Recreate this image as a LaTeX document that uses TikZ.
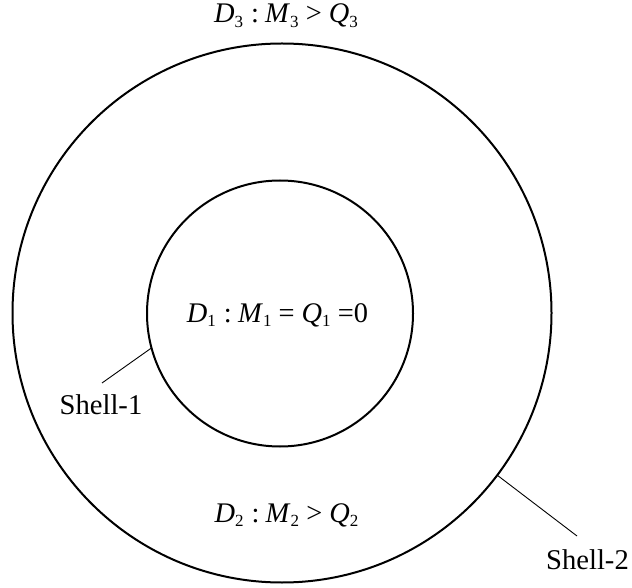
\documentclass[tikz,border=0pt]{standalone}
\usepackage{fontspec}
\setmainfont{Liberation Serif}
\newcommand{\sbs}[1]{\raisebox{-0.35ex}{\fontsize{8.5}{9}\selectfont #1}}
\tikzset{
  shell/.style={circle, draw, line width=1pt, inner sep=0pt, outer sep=0pt},
  lead/.style={line width=0.45pt},
  mathlbl/.style={anchor=base, inner sep=0pt, font=\fontsize{14.2}{16}\selectfont},
  shelllbl/.style={anchor=base, inner sep=0pt, font=\fontsize{14.3}{16}\selectfont}
}
\begin{document}
\begin{tikzpicture}[x=0.5pt, y=-0.5pt]
\useasboundingbox (0,0) rectangle (632,588);
\node[shell, minimum size=269.5pt] (outer) at (282,313) {};
\node[shell, minimum size=133pt] (inner) at (280,313.5) {};
\node[mathlbl] (d1) at (277.5,322) {\textit{D}\sbs{1}\hspace{0.28em}:\hspace{0.22em}\textit{M}\sbs{1} = \textit{Q}\sbs{1} =0};
\node[mathlbl] (d2) at (286.5,522) {\textit{D}\sbs{2}\hspace{0.28em}:\hspace{0.22em}\textit{M}\sbs{2} > \textit{Q}\sbs{2}};
\node[mathlbl] (d3) at (286,23) {\textit{D}\sbs{3}\hspace{0.28em}:\hspace{0.22em}\textit{M}\sbs{3} > \textit{Q}\sbs{3}};
\node[shelllbl] (s1) at (101,415) {Shell-1};
\node[shelllbl] (s2) at (587.5,569) {Shell-2};
\coordinate (s1end) at (102,383);
\coordinate (s2end) at (577,536);
\draw[lead] (inner.195) -- (s1end);
\draw[lead] (outer.-37) -- (s2end);
\end{tikzpicture}
\end{document}
